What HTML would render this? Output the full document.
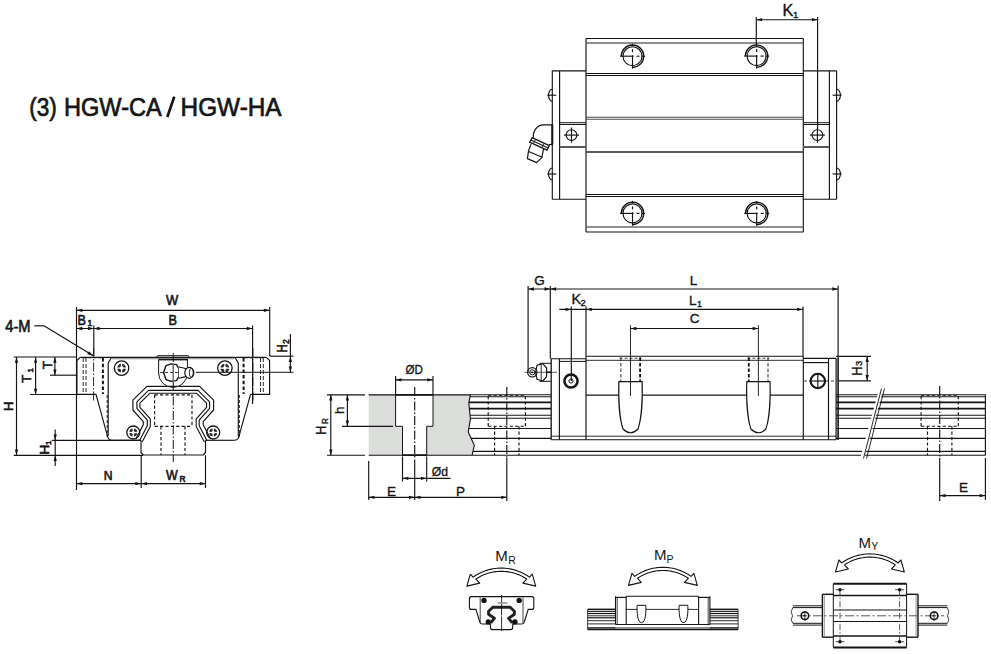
<!DOCTYPE html>
<html><head><meta charset="utf-8"><style>
html,body{margin:0;padding:0;background:#fff;}
svg{display:block;font-family:"Liberation Sans",sans-serif;}
</style></head><body>
<svg width="991" height="654" viewBox="0 0 991 654">
<rect width="991" height="654" fill="#fff"/>
<line x1="167.30" y1="117.00" x2="174.30" y2="96.60" stroke="#151515" stroke-width="2.7"/>
<text x="29.2" y="115.6" font-size="26.4" fill="#151515" stroke="#151515" stroke-width="0.7" textLength="27.6" lengthAdjust="spacingAndGlyphs">(3)</text>
<text x="64.0" y="115.6" font-size="26.4" fill="#151515" stroke="#151515" stroke-width="0.7" textLength="97.8" lengthAdjust="spacingAndGlyphs">HGW-CA</text>
<text x="180.6" y="115.6" font-size="26.4" fill="#151515" stroke="#151515" stroke-width="0.7" textLength="101.0" lengthAdjust="spacingAndGlyphs">HGW-HA</text>
<line x1="586.00" y1="38.50" x2="803.30" y2="38.50" stroke="#141414" stroke-width="1.15"/>
<line x1="586.00" y1="232.00" x2="803.30" y2="232.00" stroke="#141414" stroke-width="1.15"/>
<line x1="586.00" y1="38.50" x2="586.00" y2="232.00" stroke="#141414" stroke-width="1.15"/>
<line x1="803.30" y1="38.50" x2="803.30" y2="232.00" stroke="#141414" stroke-width="1.15"/>
<line x1="586.00" y1="42.90" x2="803.30" y2="42.90" stroke="#6a6a6a" stroke-width="1.5"/>
<line x1="586.00" y1="73.50" x2="803.30" y2="73.50" stroke="#111" stroke-width="1.0"/>
<line x1="586.00" y1="75.50" x2="803.30" y2="75.50" stroke="#111" stroke-width="1.0"/>
<line x1="586.00" y1="117.30" x2="803.30" y2="117.30" stroke="#4a4a4a" stroke-width="1.1"/>
<line x1="586.00" y1="119.30" x2="803.30" y2="119.30" stroke="#4a4a4a" stroke-width="1.1"/>
<line x1="586.00" y1="151.90" x2="803.30" y2="151.90" stroke="#5a5a5a" stroke-width="2.0"/>
<line x1="586.00" y1="194.50" x2="803.30" y2="194.50" stroke="#111" stroke-width="1.0"/>
<line x1="586.00" y1="196.50" x2="803.30" y2="196.50" stroke="#111" stroke-width="1.0"/>
<line x1="586.00" y1="226.90" x2="803.30" y2="226.90" stroke="#6a6a6a" stroke-width="1.5"/>
<line x1="552.30" y1="70.80" x2="552.30" y2="199.20" stroke="#141414" stroke-width="1.15"/>
<line x1="559.60" y1="70.80" x2="559.60" y2="199.20" stroke="#141414" stroke-width="1.15"/>
<line x1="552.30" y1="70.80" x2="586.00" y2="70.80" stroke="#141414" stroke-width="1.15"/>
<line x1="552.30" y1="199.20" x2="586.00" y2="199.20" stroke="#141414" stroke-width="1.15"/>
<line x1="559.60" y1="122.70" x2="586.00" y2="122.70" stroke="#141414" stroke-width="1.0"/>
<line x1="559.60" y1="124.50" x2="586.00" y2="124.50" stroke="#141414" stroke-width="1.0"/>
<line x1="559.60" y1="147.00" x2="586.00" y2="147.00" stroke="#5a5a5a" stroke-width="2.0"/>
<circle cx="571.50" cy="135.10" r="5.40" stroke="#141414" stroke-width="1.15" fill="none"/>
<line x1="564.00" y1="135.10" x2="579.00" y2="135.10" stroke="#141414" stroke-width="1.15"/>
<line x1="571.50" y1="127.50" x2="571.50" y2="142.70" stroke="#141414" stroke-width="1.15"/>
<path d="M552.3,89.2 A3.8,6.0 0 0 0 552.3,101.2" stroke="#141414" stroke-width="1.15" fill="none" />
<line x1="547.30" y1="95.20" x2="556.30" y2="95.20" stroke="#141414" stroke-width="1.15"/>
<path d="M552.3,168.0 A3.8,6.0 0 0 0 552.3,180.0" stroke="#141414" stroke-width="1.15" fill="none" />
<line x1="547.30" y1="174.00" x2="556.30" y2="174.00" stroke="#141414" stroke-width="1.15"/>
<line x1="836.60" y1="70.80" x2="836.60" y2="199.20" stroke="#141414" stroke-width="1.15"/>
<line x1="829.40" y1="70.80" x2="829.40" y2="199.20" stroke="#141414" stroke-width="1.15"/>
<line x1="836.60" y1="70.80" x2="803.30" y2="70.80" stroke="#141414" stroke-width="1.15"/>
<line x1="836.60" y1="199.20" x2="803.30" y2="199.20" stroke="#141414" stroke-width="1.15"/>
<line x1="829.40" y1="122.70" x2="803.30" y2="122.70" stroke="#141414" stroke-width="1.0"/>
<line x1="829.40" y1="124.50" x2="803.30" y2="124.50" stroke="#141414" stroke-width="1.0"/>
<line x1="829.40" y1="147.00" x2="803.30" y2="147.00" stroke="#5a5a5a" stroke-width="2.0"/>
<circle cx="817.40" cy="135.10" r="5.40" stroke="#141414" stroke-width="1.15" fill="none"/>
<line x1="809.90" y1="135.10" x2="824.90" y2="135.10" stroke="#141414" stroke-width="1.15"/>
<line x1="817.40" y1="127.50" x2="817.40" y2="142.70" stroke="#141414" stroke-width="1.15"/>
<path d="M836.6,89.2 A3.8,6.0 0 0 1 836.6,101.2" stroke="#141414" stroke-width="1.15" fill="none" />
<line x1="832.60" y1="95.20" x2="841.60" y2="95.20" stroke="#141414" stroke-width="1.15"/>
<path d="M836.6,168.0 A3.8,6.0 0 0 1 836.6,180.0" stroke="#141414" stroke-width="1.15" fill="none" />
<line x1="832.60" y1="174.00" x2="841.60" y2="174.00" stroke="#141414" stroke-width="1.15"/>
<path d="M621.3,56.2 A11.2,11.2 0 1 1 632.5,67.4" stroke="#141414" stroke-width="1.3" fill="none" />
<circle cx="632.50" cy="56.20" r="9.50" stroke="#141414" stroke-width="1.15" fill="none"/>
<line x1="620.00" y1="56.20" x2="633.50" y2="56.20" stroke="#141414" stroke-width="1.15"/>
<line x1="636.50" y1="56.20" x2="639.50" y2="56.20" stroke="#141414" stroke-width="1.15"/>
<line x1="641.50" y1="56.20" x2="645.00" y2="56.20" stroke="#141414" stroke-width="1.15"/>
<line x1="632.50" y1="43.70" x2="632.50" y2="46.20" stroke="#141414" stroke-width="1.15"/>
<line x1="632.50" y1="49.20" x2="632.50" y2="52.20" stroke="#141414" stroke-width="1.15"/>
<line x1="632.50" y1="55.20" x2="632.50" y2="68.70" stroke="#141414" stroke-width="1.15"/>
<path d="M745.4,56.1 A11.2,11.2 0 1 1 756.6,67.3" stroke="#141414" stroke-width="1.3" fill="none" />
<circle cx="756.60" cy="56.10" r="9.50" stroke="#141414" stroke-width="1.15" fill="none"/>
<line x1="744.10" y1="56.10" x2="757.60" y2="56.10" stroke="#141414" stroke-width="1.15"/>
<line x1="760.60" y1="56.10" x2="763.60" y2="56.10" stroke="#141414" stroke-width="1.15"/>
<line x1="765.60" y1="56.10" x2="769.10" y2="56.10" stroke="#141414" stroke-width="1.15"/>
<line x1="756.60" y1="43.60" x2="756.60" y2="46.10" stroke="#141414" stroke-width="1.15"/>
<line x1="756.60" y1="49.10" x2="756.60" y2="52.10" stroke="#141414" stroke-width="1.15"/>
<line x1="756.60" y1="55.10" x2="756.60" y2="68.60" stroke="#141414" stroke-width="1.15"/>
<path d="M621.3,213.4 A11.2,11.2 0 1 1 632.5,224.6" stroke="#141414" stroke-width="1.3" fill="none" />
<circle cx="632.50" cy="213.40" r="9.50" stroke="#141414" stroke-width="1.15" fill="none"/>
<line x1="620.00" y1="213.40" x2="633.50" y2="213.40" stroke="#141414" stroke-width="1.15"/>
<line x1="636.50" y1="213.40" x2="639.50" y2="213.40" stroke="#141414" stroke-width="1.15"/>
<line x1="641.50" y1="213.40" x2="645.00" y2="213.40" stroke="#141414" stroke-width="1.15"/>
<line x1="632.50" y1="200.90" x2="632.50" y2="203.40" stroke="#141414" stroke-width="1.15"/>
<line x1="632.50" y1="206.40" x2="632.50" y2="209.40" stroke="#141414" stroke-width="1.15"/>
<line x1="632.50" y1="212.40" x2="632.50" y2="225.90" stroke="#141414" stroke-width="1.15"/>
<path d="M745.5,213.4 A11.2,11.2 0 1 1 756.7,224.6" stroke="#141414" stroke-width="1.3" fill="none" />
<circle cx="756.70" cy="213.40" r="9.50" stroke="#141414" stroke-width="1.15" fill="none"/>
<line x1="744.20" y1="213.40" x2="757.70" y2="213.40" stroke="#141414" stroke-width="1.15"/>
<line x1="760.70" y1="213.40" x2="763.70" y2="213.40" stroke="#141414" stroke-width="1.15"/>
<line x1="765.70" y1="213.40" x2="769.20" y2="213.40" stroke="#141414" stroke-width="1.15"/>
<line x1="756.70" y1="200.90" x2="756.70" y2="203.40" stroke="#141414" stroke-width="1.15"/>
<line x1="756.70" y1="206.40" x2="756.70" y2="209.40" stroke="#141414" stroke-width="1.15"/>
<line x1="756.70" y1="212.40" x2="756.70" y2="225.90" stroke="#141414" stroke-width="1.15"/>
<line x1="756.30" y1="17.00" x2="756.30" y2="45.00" stroke="#141414" stroke-width="1.15"/>
<line x1="817.60" y1="17.00" x2="817.60" y2="129.00" stroke="#141414" stroke-width="1.15"/>
<line x1="756.30" y1="19.70" x2="817.60" y2="19.70" stroke="#141414" stroke-width="1.15"/>
<polygon points="756.30,19.70 762.10,18.05 762.10,21.35" fill="#141414"/>
<polygon points="817.60,19.70 811.80,18.05 811.80,21.35" fill="#141414"/>
<text x="782.60" y="15.70" font-size="16.3" text-anchor="start" font-weight="normal" fill="#151515" stroke="#151515" stroke-width="0.35">K</text>
<text x="793.00" y="17.60" font-size="9.5" text-anchor="start" font-weight="normal" fill="#151515" stroke="#151515" stroke-width="0.35">1</text>
<path d="M552.3,124.8 L543.5,124.8 A10,11.5 0 0 0 533.4,137.6" stroke="#141414" stroke-width="1.2" fill="none" />
<path d="M552.3,144.3 L549.0,144.6" stroke="#141414" stroke-width="1.2" fill="none" />
<line x1="552.30" y1="124.50" x2="552.30" y2="144.50" stroke="#141414" stroke-width="2.0"/>
<polygon points="529.60,142.20 532.20,137.60 549.20,145.60 547.00,150.20" stroke="#141414" stroke-width="1.3" fill="none" stroke-linejoin="round" />
<line x1="530.90" y1="139.90" x2="548.10" y2="147.90" stroke="#141414" stroke-width="1.1"/>
<line x1="535.20" y1="139.90" x2="533.60" y2="143.30" stroke="#141414" stroke-width="0.9"/>
<line x1="543.60" y1="143.90" x2="542.00" y2="147.40" stroke="#141414" stroke-width="0.9"/>
<polyline points="531.00,144.20 528.60,150.60 527.40,158.60 536.60,162.60 541.80,157.60 543.60,148.90" stroke="#141414" stroke-width="1.2" fill="none" stroke-linejoin="round" />
<line x1="528.60" y1="151.60" x2="542.20" y2="157.20" stroke="#141414" stroke-width="1.1"/>
<line x1="80.50" y1="357.30" x2="266.00" y2="357.30" stroke="#141414" stroke-width="1.2"/>
<line x1="112.00" y1="358.70" x2="234.50" y2="358.70" stroke="#888" stroke-width="1.1"/>
<polyline points="80.50,357.20 76.90,360.50 76.90,394.40 96.00,394.40" stroke="#141414" stroke-width="1.15" fill="none" stroke-linejoin="round" />
<path d="M96.0,394.4 L107.6,436.6 Q108.6,440.2 112,440.2" stroke="#141414" stroke-width="1.15" fill="none" />
<polyline points="111.60,357.20 108.20,363.00 108.20,436.00" stroke="#141414" stroke-width="1.15" fill="none" stroke-linejoin="round" />
<line x1="83.20" y1="358.00" x2="83.20" y2="394.00" stroke="#141414" stroke-width="0.9" stroke-dasharray="4,2"/>
<line x1="86.00" y1="358.00" x2="86.00" y2="394.00" stroke="#141414" stroke-width="0.9" stroke-dasharray="4,2"/>
<line x1="102.90" y1="358.00" x2="102.90" y2="394.00" stroke="#141414" stroke-width="2.0" stroke-dasharray="3.5,2.2"/>
<line x1="107.20" y1="395.00" x2="107.20" y2="437.00" stroke="#141414" stroke-width="1.0" stroke-dasharray="3,2"/>
<line x1="83.50" y1="357.80" x2="103.00" y2="357.80" stroke="#141414" stroke-width="0.9" stroke-dasharray="3,2"/>
<line x1="93.60" y1="348.00" x2="93.60" y2="401.00" stroke="#141414" stroke-width="0.9" stroke-dasharray="9,2,1.5,2"/>
<polyline points="266.00,357.20 269.60,360.50 269.60,394.40 250.50,394.40" stroke="#141414" stroke-width="1.15" fill="none" stroke-linejoin="round" />
<path d="M250.5,394.4 L238.9,436.6 Q237.9,440.2 234.5,440.2" stroke="#141414" stroke-width="1.15" fill="none" />
<polyline points="234.90,357.20 238.30,363.00 238.30,436.00" stroke="#141414" stroke-width="1.15" fill="none" stroke-linejoin="round" />
<line x1="263.30" y1="358.00" x2="263.30" y2="394.00" stroke="#141414" stroke-width="0.9" stroke-dasharray="4,2"/>
<line x1="260.50" y1="358.00" x2="260.50" y2="394.00" stroke="#141414" stroke-width="0.9" stroke-dasharray="4,2"/>
<line x1="243.60" y1="358.00" x2="243.60" y2="394.00" stroke="#141414" stroke-width="2.0" stroke-dasharray="3.5,2.2"/>
<line x1="239.30" y1="395.00" x2="239.30" y2="437.00" stroke="#141414" stroke-width="1.0" stroke-dasharray="3,2"/>
<line x1="263.00" y1="357.80" x2="243.50" y2="357.80" stroke="#141414" stroke-width="0.9" stroke-dasharray="3,2"/>
<line x1="252.90" y1="348.00" x2="252.90" y2="401.00" stroke="#141414" stroke-width="0.9" stroke-dasharray="9,2,1.5,2"/>
<line x1="112.00" y1="440.30" x2="141.00" y2="440.30" stroke="#141414" stroke-width="1.15"/>
<line x1="205.50" y1="440.30" x2="234.50" y2="440.30" stroke="#141414" stroke-width="1.15"/>
<line x1="13.70" y1="455.30" x2="143.00" y2="455.30" stroke="#141414" stroke-width="1.15"/>
<polyline points="141.00,440.30 141.00,452.50 143.30,455.00 203.20,455.00 205.50,452.50 205.50,440.30" stroke="#141414" stroke-width="1.15" fill="none" stroke-linejoin="round" />
<polyline points="135.90,438.80 143.30,424.70 143.30,421.60 132.90,410.00 132.90,400.20 146.90,386.30 199.60,386.30 213.60,400.20 213.60,410.00 203.20,421.60 203.20,424.70 210.60,438.80" stroke="#141414" stroke-width="1.15" fill="none" stroke-linejoin="round" />
<polyline points="139.44,440.66 147.30,425.69 147.30,420.07 136.90,408.47 136.90,401.87 148.55,390.30 197.95,390.30 209.60,401.87 209.60,408.47 199.20,420.07 199.20,425.69 207.06,440.66" stroke="#141414" stroke-width="1.15" fill="none" stroke-linejoin="round" />
<polyline points="142.10,442.05 150.30,426.43 150.30,418.92 139.90,407.32 139.90,403.11 149.78,393.30 196.72,393.30 206.60,403.11 206.60,407.32 196.20,418.92 196.20,426.43 204.40,442.05" stroke="#141414" stroke-width="1.1" fill="none" stroke-linejoin="round" />
<circle cx="121.60" cy="368.10" r="7.20" stroke="#141414" stroke-width="1.3" fill="none"/>
<circle cx="121.60" cy="368.10" r="4.46" stroke="#141414" stroke-width="0" fill="#2a2a2a"/>
<line x1="115.84" y1="368.10" x2="127.36" y2="368.10" stroke="white" stroke-width="1.3"/>
<line x1="121.60" y1="362.34" x2="121.60" y2="373.86" stroke="white" stroke-width="1.3"/>
<circle cx="121.60" cy="368.10" r="1.80" stroke="#141414" stroke-width="0" fill="white"/>
<circle cx="224.90" cy="368.10" r="7.20" stroke="#141414" stroke-width="1.3" fill="none"/>
<circle cx="224.90" cy="368.10" r="4.46" stroke="#141414" stroke-width="0" fill="#2a2a2a"/>
<line x1="219.14" y1="368.10" x2="230.66" y2="368.10" stroke="white" stroke-width="1.3"/>
<line x1="224.90" y1="362.34" x2="224.90" y2="373.86" stroke="white" stroke-width="1.3"/>
<circle cx="224.90" cy="368.10" r="1.80" stroke="#141414" stroke-width="0" fill="white"/>
<circle cx="133.30" cy="432.50" r="6.50" stroke="#141414" stroke-width="1.3" fill="none"/>
<circle cx="133.30" cy="432.50" r="4.03" stroke="#141414" stroke-width="0" fill="#2a2a2a"/>
<line x1="128.10" y1="432.50" x2="138.50" y2="432.50" stroke="white" stroke-width="1.3"/>
<line x1="133.30" y1="427.30" x2="133.30" y2="437.70" stroke="white" stroke-width="1.3"/>
<circle cx="133.30" cy="432.50" r="1.62" stroke="#141414" stroke-width="0" fill="white"/>
<circle cx="213.20" cy="432.50" r="6.50" stroke="#141414" stroke-width="1.3" fill="none"/>
<circle cx="213.20" cy="432.50" r="4.03" stroke="#141414" stroke-width="0" fill="#2a2a2a"/>
<line x1="208.00" y1="432.50" x2="218.40" y2="432.50" stroke="white" stroke-width="1.3"/>
<line x1="213.20" y1="427.30" x2="213.20" y2="437.70" stroke="white" stroke-width="1.3"/>
<circle cx="213.20" cy="432.50" r="1.62" stroke="#141414" stroke-width="0" fill="white"/>
<line x1="154.60" y1="394.80" x2="154.60" y2="426.30" stroke="#141414" stroke-width="1.15" stroke-dasharray="3.2,2.2"/>
<line x1="192.00" y1="394.80" x2="192.00" y2="426.30" stroke="#141414" stroke-width="1.15" stroke-dasharray="3.2,2.2"/>
<line x1="154.60" y1="394.80" x2="192.00" y2="394.80" stroke="#141414" stroke-width="1.15" stroke-dasharray="3.2,2.2"/>
<line x1="154.60" y1="426.30" x2="192.00" y2="426.30" stroke="#141414" stroke-width="1.15" stroke-dasharray="3.2,2.2"/>
<line x1="161.00" y1="426.30" x2="161.00" y2="455.00" stroke="#141414" stroke-width="1.15" stroke-dasharray="3.2,2.2"/>
<line x1="185.00" y1="426.30" x2="185.00" y2="455.00" stroke="#141414" stroke-width="1.15" stroke-dasharray="3.2,2.2"/>
<line x1="173.25" y1="353.00" x2="173.25" y2="462.00" stroke="#141414" stroke-width="1.0" stroke-dasharray="9,2,1.5,2"/>
<path d="M156,358 L157.5,355.7 L188.5,355.7 L190,358" stroke="#141414" stroke-width="1.0" fill="none" />
<line x1="158.50" y1="359.60" x2="188.00" y2="359.60" stroke="#141414" stroke-width="1.6"/>
<path d="M158.6,359.6 L158.6,373 A14.4,14.4 0 0 0 187.4,373 L187.4,359.6" stroke="#141414" stroke-width="1.0" fill="none" />
<polygon points="163.60,372.60 166.00,365.60 171.00,363.90 176.50,364.60 178.80,368.50 178.80,376.70 176.50,380.60 171.00,381.30 166.00,379.60" stroke="#141414" stroke-width="1.4" fill="white" stroke-linejoin="round" />
<line x1="173.20" y1="364.50" x2="173.20" y2="381.00" stroke="#777" stroke-width="1.6"/>
<path d="M178.8,367.0 L182.5,367.8 L186,368.6 L186,376.6 L182.5,377.4 L178.8,378.2" stroke="#141414" stroke-width="1.1" fill="white" />
<ellipse cx="189.3" cy="372.8" rx="4.5" ry="5.5" stroke="#141414" stroke-width="1.2" fill="white"/>
<ellipse cx="191.3" cy="372.8" rx="2.0" ry="4.5" stroke="#141414" stroke-width="0.9" fill="none"/>
<line x1="160.00" y1="372.50" x2="179.00" y2="372.50" stroke="#141414" stroke-width="0.8" stroke-dasharray="3,2"/>
<line x1="196.00" y1="372.30" x2="293.50" y2="372.30" stroke="#141414" stroke-width="1.0"/>
<line x1="76.50" y1="307.00" x2="76.50" y2="490.00" stroke="#141414" stroke-width="1.15"/>
<line x1="269.70" y1="307.00" x2="269.70" y2="356.00" stroke="#141414" stroke-width="1.15"/>
<line x1="76.50" y1="310.30" x2="269.70" y2="310.30" stroke="#141414" stroke-width="1.15"/>
<polygon points="76.50,310.30 82.30,308.65 82.30,311.95" fill="#141414"/>
<polygon points="269.70,310.30 263.90,308.65 263.90,311.95" fill="#141414"/>
<line x1="93.80" y1="325.50" x2="93.80" y2="356.00" stroke="#141414" stroke-width="1.15"/>
<line x1="252.60" y1="325.50" x2="252.60" y2="404.00" stroke="#141414" stroke-width="1.15"/>
<line x1="76.50" y1="328.50" x2="252.60" y2="328.50" stroke="#141414" stroke-width="1.15"/>
<polygon points="76.50,328.50 82.30,326.85 82.30,330.15" fill="#141414"/>
<polygon points="93.80,328.50 88.00,326.85 88.00,330.15" fill="#141414"/>
<polygon points="93.80,328.50 99.60,326.85 99.60,330.15" fill="#141414"/>
<polygon points="252.60,328.50 246.80,326.85 246.80,330.15" fill="#141414"/>
<line x1="13.80" y1="357.00" x2="76.50" y2="357.00" stroke="#141414" stroke-width="1.15"/>
<line x1="16.50" y1="357.00" x2="16.50" y2="455.20" stroke="#141414" stroke-width="1.15"/>
<polygon points="16.50,357.00 14.85,362.80 18.15,362.80" fill="#141414"/>
<polygon points="16.50,455.20 14.85,449.40 18.15,449.40" fill="#141414"/>
<line x1="30.00" y1="394.50" x2="76.90" y2="394.50" stroke="#141414" stroke-width="1.15"/>
<line x1="35.60" y1="357.00" x2="35.60" y2="394.50" stroke="#141414" stroke-width="1.15"/>
<polygon points="35.60,357.00 33.95,362.80 37.25,362.80" fill="#141414"/>
<polygon points="35.60,394.50 33.95,388.70 37.25,388.70" fill="#141414"/>
<line x1="50.00" y1="375.20" x2="76.90" y2="375.20" stroke="#141414" stroke-width="1.15"/>
<line x1="54.90" y1="357.00" x2="54.90" y2="375.20" stroke="#141414" stroke-width="1.15"/>
<polygon points="54.90,357.00 53.25,362.80 56.55,362.80" fill="#141414"/>
<polygon points="54.90,375.20 53.25,369.40 56.55,369.40" fill="#141414"/>
<line x1="52.00" y1="440.30" x2="141.00" y2="440.30" stroke="#141414" stroke-width="1.15"/>
<line x1="55.20" y1="429.50" x2="55.20" y2="466.00" stroke="#141414" stroke-width="1.15"/>
<polygon points="55.20,440.30 53.55,434.50 56.85,434.50" fill="#141414"/>
<polygon points="55.20,455.20 53.55,461.00 56.85,461.00" fill="#141414"/>
<line x1="141.20" y1="455.20" x2="141.20" y2="488.00" stroke="#141414" stroke-width="1.15"/>
<line x1="205.50" y1="455.20" x2="205.50" y2="488.00" stroke="#141414" stroke-width="1.15"/>
<line x1="76.50" y1="483.60" x2="205.50" y2="483.60" stroke="#141414" stroke-width="1.15"/>
<polygon points="76.50,483.60 82.30,481.95 82.30,485.25" fill="#141414"/>
<polygon points="141.20,483.60 135.40,481.95 135.40,485.25" fill="#141414"/>
<polygon points="141.20,483.60 147.00,481.95 147.00,485.25" fill="#141414"/>
<polygon points="205.50,483.60 199.70,481.95 199.70,485.25" fill="#141414"/>
<line x1="269.70" y1="356.20" x2="293.50" y2="356.20" stroke="#141414" stroke-width="1.15"/>
<line x1="290.40" y1="334.00" x2="290.40" y2="372.30" stroke="#141414" stroke-width="1.15"/>
<polygon points="290.40,356.20 288.75,362.00 292.05,362.00" fill="#141414"/>
<polygon points="290.40,372.30 288.75,366.50 292.05,366.50" fill="#141414"/>
<line x1="34.30" y1="325.80" x2="44.00" y2="325.80" stroke="#141414" stroke-width="1.15"/>
<line x1="44.00" y1="325.80" x2="93.30" y2="355.80" stroke="#141414" stroke-width="1.15"/>
<polygon points="93.30,355.80 87.29,354.13 89.06,351.23" fill="#141414"/>
<text x="0.00" y="0.00" font-size="13.8" text-anchor="middle" font-weight="normal" fill="#151515" transform="translate(172.20,304.70) scale(0.94,1)" stroke="#151515" stroke-width="0.6">W</text>
<text x="0.00" y="0.00" font-size="13.8" text-anchor="middle" font-weight="normal" fill="#151515" transform="translate(172.70,325.00) scale(0.92,1)" stroke="#151515" stroke-width="0.6">B</text>
<text x="0.00" y="0.00" font-size="13.8" text-anchor="start" font-weight="normal" fill="#151515" transform="translate(77.60,324.80) scale(0.92,1)" stroke="#151515" stroke-width="0.6">B</text>
<text x="87.60" y="326.30" font-size="8.5" text-anchor="start" font-weight="normal" fill="#151515" stroke="#151515" stroke-width="0.6">1</text>
<text x="0.00" y="0.00" font-size="15.8" text-anchor="start" font-weight="normal" fill="#151515" transform="translate(5.30,331.70) scale(0.93,1)" stroke="#151515" stroke-width="0.6">4-M</text>
<text x="0.00" y="0.00" font-size="13.5" text-anchor="middle" font-weight="normal" fill="#151515" transform="translate(108.20,479.70) scale(0.9,1)" stroke="#151515" stroke-width="0.6">N</text>
<text x="0.00" y="0.00" font-size="13.8" text-anchor="start" font-weight="normal" fill="#151515" transform="translate(166.00,479.70) scale(0.9,1)" stroke="#151515" stroke-width="0.6">W</text>
<text x="0.00" y="0.00" font-size="8.8" text-anchor="start" font-weight="normal" fill="#151515" transform="translate(179.50,482.00) scale(0.95,1)" stroke="#151515" stroke-width="0.6">R</text>
<text x="0.00" y="0.00" font-size="13" text-anchor="middle" font-weight="normal" fill="#151515" transform="translate(12.90,406.40) rotate(-90)" stroke="#151515" stroke-width="0.6">H</text>
<text x="0.00" y="0.00" font-size="13.5" text-anchor="start" font-weight="normal" fill="#151515" transform="translate(30.50,383.00) rotate(-90)" stroke="#151515" stroke-width="0.6">T</text>
<text x="0.00" y="0.00" font-size="8" text-anchor="start" font-weight="normal" fill="#151515" transform="translate(33.00,372.50) rotate(-90)" stroke="#151515" stroke-width="0.6">1</text>
<text x="0.00" y="0.00" font-size="13.5" text-anchor="middle" font-weight="normal" fill="#151515" transform="translate(51.60,365.00) rotate(-90)" stroke="#151515" stroke-width="0.6">T</text>
<text x="0.00" y="0.00" font-size="13.5" text-anchor="start" font-weight="normal" fill="#151515" transform="translate(48.70,454.60) rotate(-90)" stroke="#151515" stroke-width="0.6">H</text>
<text x="0.00" y="0.00" font-size="8" text-anchor="start" font-weight="normal" fill="#151515" transform="translate(50.60,445.00) rotate(-90)" stroke="#151515" stroke-width="0.6">1</text>
<text x="0.00" y="0.00" font-size="15.5" text-anchor="start" font-weight="normal" fill="#151515" transform="translate(287.10,352.50) rotate(-90) scale(0.74,1)" stroke="#151515" stroke-width="0.6">H</text>
<text x="0.00" y="0.00" font-size="9.5" text-anchor="start" font-weight="normal" fill="#151515" transform="translate(289.20,344.00) rotate(-90) scale(0.9,1)" stroke="#151515" stroke-width="0.6">2</text>
<path d="M368.7,394.8 L470.4,394.6 L468.8,402.9 L470.4,418.9 L468.2,432.1 L474.3,445.3 L472.1,455.2 L368.7,455.2 Z" stroke="none" stroke-width="0" fill="#dbdddb" />
<polyline points="470.40,394.60 468.80,402.90 470.40,418.90 468.20,432.10 474.30,445.30 472.10,455.20" stroke="#141414" stroke-width="1.1" fill="none" stroke-linejoin="round" />
<path d="M395.6,394.8 L433.0,394.8 L433.0,426.3 L426.7,426.3 L426.7,455.2 L402.5,455.2 L402.5,426.3 L395.6,426.3 Z" stroke="#141414" stroke-width="1.0" fill="white" />
<line x1="368.70" y1="394.80" x2="470.40" y2="394.80" stroke="#141414" stroke-width="1.2"/>
<line x1="395.60" y1="394.80" x2="433.00" y2="394.80" stroke="#141414" stroke-width="1.6"/>
<line x1="402.50" y1="455.20" x2="426.70" y2="455.20" stroke="#141414" stroke-width="1.6"/>
<line x1="327.00" y1="394.80" x2="365.00" y2="394.80" stroke="#141414" stroke-width="1.15"/>
<line x1="327.00" y1="455.20" x2="365.00" y2="455.20" stroke="#141414" stroke-width="1.15"/>
<line x1="330.80" y1="394.80" x2="330.80" y2="455.20" stroke="#141414" stroke-width="1.15"/>
<polygon points="330.80,394.80 329.15,400.60 332.45,400.60" fill="#141414"/>
<polygon points="330.80,455.20 329.15,449.40 332.45,449.40" fill="#141414"/>
<line x1="342.00" y1="426.30" x2="393.00" y2="426.30" stroke="#141414" stroke-width="1.15"/>
<line x1="347.40" y1="394.80" x2="347.40" y2="426.30" stroke="#141414" stroke-width="1.15"/>
<polygon points="347.40,394.80 345.75,400.60 349.05,400.60" fill="#141414"/>
<polygon points="347.40,426.30 345.75,420.50 349.05,420.50" fill="#141414"/>
<line x1="395.60" y1="376.00" x2="395.60" y2="394.80" stroke="#141414" stroke-width="1.15"/>
<line x1="433.00" y1="376.00" x2="433.00" y2="394.80" stroke="#141414" stroke-width="1.15"/>
<line x1="395.60" y1="379.80" x2="433.00" y2="379.80" stroke="#141414" stroke-width="1.15"/>
<polygon points="395.60,379.80 401.40,378.15 401.40,381.45" fill="#141414"/>
<polygon points="433.00,379.80 427.20,378.15 427.20,381.45" fill="#141414"/>
<text x="0.00" y="0.00" font-size="13.5" text-anchor="middle" font-weight="normal" fill="#151515" transform="translate(414.30,374.30) scale(0.86,1)" stroke="#151515" stroke-width="0.35">ØD</text>
<line x1="402.50" y1="456.50" x2="402.50" y2="481.50" stroke="#141414" stroke-width="1.15"/>
<line x1="426.70" y1="456.50" x2="426.70" y2="481.50" stroke="#141414" stroke-width="1.15"/>
<line x1="402.50" y1="478.30" x2="450.60" y2="478.30" stroke="#141414" stroke-width="1.15"/>
<polygon points="402.50,478.30 408.30,476.65 408.30,479.95" fill="#141414"/>
<polygon points="426.70,478.30 420.90,476.65 420.90,479.95" fill="#141414"/>
<text x="0.00" y="0.00" font-size="13.5" text-anchor="start" font-weight="normal" fill="#151515" transform="translate(431.70,476.20) scale(0.9,1)" stroke="#151515" stroke-width="0.35">Ød</text>
<line x1="414.70" y1="387.00" x2="414.70" y2="460.00" stroke="#141414" stroke-width="1.15" stroke-dasharray="9,2,1.5,2"/>
<line x1="414.70" y1="460.00" x2="414.70" y2="500.00" stroke="#141414" stroke-width="1.15"/>
<line x1="368.70" y1="461.00" x2="368.70" y2="500.00" stroke="#141414" stroke-width="1.15"/>
<line x1="368.70" y1="497.30" x2="507.00" y2="497.30" stroke="#141414" stroke-width="1.15"/>
<polygon points="368.70,497.30 374.50,495.65 374.50,498.95" fill="#141414"/>
<polygon points="414.70,497.30 408.90,495.65 408.90,498.95" fill="#141414"/>
<polygon points="414.70,497.30 420.50,495.65 420.50,498.95" fill="#141414"/>
<polygon points="507.00,497.30 501.20,495.65 501.20,498.95" fill="#141414"/>
<text x="391.40" y="495.50" font-size="13.5" text-anchor="middle" font-weight="normal" fill="#151515" stroke="#151515" stroke-width="0.35">E</text>
<text x="460.50" y="495.50" font-size="13.5" text-anchor="middle" font-weight="normal" fill="#151515" stroke="#151515" stroke-width="0.35">P</text>
<line x1="470.38" y1="394.70" x2="551.00" y2="394.70" stroke="#141414" stroke-width="1.15"/>
<line x1="836.10" y1="394.70" x2="985.40" y2="394.70" stroke="#141414" stroke-width="1.15"/>
<line x1="470.00" y1="396.70" x2="551.00" y2="396.70" stroke="#141414" stroke-width="1.15"/>
<line x1="836.10" y1="396.70" x2="985.40" y2="396.70" stroke="#141414" stroke-width="1.15"/>
<line x1="468.90" y1="402.40" x2="551.00" y2="402.40" stroke="#141414" stroke-width="1.8"/>
<line x1="836.10" y1="402.40" x2="985.40" y2="402.40" stroke="#141414" stroke-width="1.8"/>
<line x1="469.37" y1="408.60" x2="551.00" y2="408.60" stroke="#141414" stroke-width="1.8"/>
<line x1="836.10" y1="408.60" x2="985.40" y2="408.60" stroke="#141414" stroke-width="1.8"/>
<line x1="470.03" y1="415.20" x2="551.00" y2="415.20" stroke="#141414" stroke-width="1.1"/>
<line x1="836.10" y1="415.20" x2="985.40" y2="415.20" stroke="#141414" stroke-width="1.1"/>
<line x1="470.33" y1="418.20" x2="551.00" y2="418.20" stroke="#141414" stroke-width="1.1"/>
<line x1="836.10" y1="418.20" x2="985.40" y2="418.20" stroke="#141414" stroke-width="1.1"/>
<line x1="468.80" y1="428.50" x2="551.00" y2="428.50" stroke="#141414" stroke-width="1.15"/>
<line x1="836.10" y1="428.50" x2="985.40" y2="428.50" stroke="#141414" stroke-width="1.15"/>
<line x1="471.11" y1="438.40" x2="551.00" y2="438.40" stroke="#141414" stroke-width="1.15"/>
<line x1="836.10" y1="438.40" x2="985.40" y2="438.40" stroke="#141414" stroke-width="1.15"/>
<line x1="472.94" y1="451.40" x2="985.40" y2="451.40" stroke="#141414" stroke-width="1.15"/>
<line x1="368.70" y1="455.20" x2="985.40" y2="455.20" stroke="#141414" stroke-width="1.1"/>
<line x1="985.40" y1="394.70" x2="985.40" y2="455.20" stroke="#141414" stroke-width="1.15"/>
<path d="M882.0,386 L861.5,461" stroke="white" stroke-width="4" fill="none" />
<path d="M881.5,388.5 L863.5,458.5" stroke="#141414" stroke-width="0.9" fill="none" />
<path d="M884.5,388.5 L866.5,458.5" stroke="#141414" stroke-width="0.9" fill="none" />
<line x1="488.20" y1="396.00" x2="488.20" y2="426.20" stroke="#141414" stroke-width="1.15" stroke-dasharray="3.2,2.2"/>
<line x1="525.40" y1="396.00" x2="525.40" y2="426.20" stroke="#141414" stroke-width="1.15" stroke-dasharray="3.2,2.2"/>
<line x1="488.20" y1="426.20" x2="525.40" y2="426.20" stroke="#141414" stroke-width="1.15" stroke-dasharray="3.2,2.2"/>
<line x1="488.20" y1="395.50" x2="525.40" y2="395.50" stroke="#141414" stroke-width="0.8" stroke-dasharray="3.2,2.2"/>
<line x1="494.60" y1="426.20" x2="494.60" y2="455.00" stroke="#141414" stroke-width="1.15" stroke-dasharray="3.2,2.2"/>
<line x1="519.00" y1="426.20" x2="519.00" y2="455.00" stroke="#141414" stroke-width="1.15" stroke-dasharray="3.2,2.2"/>
<line x1="921.10" y1="396.00" x2="921.10" y2="426.20" stroke="#141414" stroke-width="1.15" stroke-dasharray="3.2,2.2"/>
<line x1="958.30" y1="396.00" x2="958.30" y2="426.20" stroke="#141414" stroke-width="1.15" stroke-dasharray="3.2,2.2"/>
<line x1="921.10" y1="426.20" x2="958.30" y2="426.20" stroke="#141414" stroke-width="1.15" stroke-dasharray="3.2,2.2"/>
<line x1="921.10" y1="395.50" x2="958.30" y2="395.50" stroke="#141414" stroke-width="0.8" stroke-dasharray="3.2,2.2"/>
<line x1="927.50" y1="426.20" x2="927.50" y2="455.00" stroke="#141414" stroke-width="1.15" stroke-dasharray="3.2,2.2"/>
<line x1="951.90" y1="426.20" x2="951.90" y2="455.00" stroke="#141414" stroke-width="1.15" stroke-dasharray="3.2,2.2"/>
<line x1="506.80" y1="387.00" x2="506.80" y2="458.00" stroke="#141414" stroke-width="1.15" stroke-dasharray="9,2,1.5,2"/>
<line x1="506.80" y1="458.00" x2="506.80" y2="501.00" stroke="#141414" stroke-width="1.15"/>
<line x1="939.70" y1="386.00" x2="939.70" y2="458.00" stroke="#141414" stroke-width="1.15" stroke-dasharray="9,2,1.5,2"/>
<line x1="939.70" y1="458.00" x2="939.70" y2="501.00" stroke="#141414" stroke-width="1.15"/>
<line x1="985.40" y1="458.00" x2="985.40" y2="500.00" stroke="#141414" stroke-width="1.15"/>
<line x1="939.70" y1="495.60" x2="985.40" y2="495.60" stroke="#141414" stroke-width="1.15"/>
<polygon points="939.70,495.60 945.50,493.95 945.50,497.25" fill="#141414"/>
<polygon points="985.40,495.60 979.60,493.95 979.60,497.25" fill="#141414"/>
<text x="963.60" y="492.20" font-size="13.5" text-anchor="middle" font-weight="normal" fill="#151515" stroke="#151515" stroke-width="0.35">E</text>
<path d="M551.2,358.7 L586,358.7" stroke="#141414" stroke-width="1.15" fill="none" />
<line x1="559.40" y1="361.40" x2="586.00" y2="361.40" stroke="#141414" stroke-width="1.0"/>
<line x1="551.20" y1="358.70" x2="551.20" y2="439.80" stroke="#141414" stroke-width="1.3"/>
<line x1="559.40" y1="358.70" x2="559.40" y2="439.80" stroke="#141414" stroke-width="1.15"/>
<line x1="551.20" y1="439.80" x2="836.10" y2="439.80" stroke="#141414" stroke-width="1.1"/>
<line x1="551.20" y1="436.20" x2="836.10" y2="436.20" stroke="#141414" stroke-width="0.9"/>
<line x1="586.00" y1="356.20" x2="803.30" y2="356.20" stroke="#141414" stroke-width="1.1"/>
<line x1="586.00" y1="360.30" x2="803.30" y2="360.30" stroke="#141414" stroke-width="0.9"/>
<line x1="586.00" y1="356.20" x2="586.00" y2="439.80" stroke="#141414" stroke-width="1.15"/>
<line x1="803.30" y1="356.20" x2="803.30" y2="439.80" stroke="#141414" stroke-width="1.15"/>
<line x1="586.00" y1="395.10" x2="803.30" y2="395.10" stroke="#141414" stroke-width="1.15"/>
<line x1="803.30" y1="358.30" x2="836.10" y2="358.30" stroke="#141414" stroke-width="1.15"/>
<line x1="803.30" y1="362.60" x2="828.50" y2="362.60" stroke="#141414" stroke-width="1.15"/>
<line x1="828.50" y1="358.30" x2="828.50" y2="439.80" stroke="#141414" stroke-width="1.15"/>
<line x1="836.10" y1="358.30" x2="836.10" y2="439.80" stroke="#141414" stroke-width="1.2"/>
<line x1="838.10" y1="358.30" x2="838.10" y2="439.80" stroke="#141414" stroke-width="1.0"/>
<circle cx="571.00" cy="381.00" r="6.60" stroke="#141414" stroke-width="2.5" fill="none"/>
<circle cx="571.00" cy="381.00" r="2.10" stroke="#141414" stroke-width="1.0" fill="none"/>
<circle cx="817.80" cy="381.00" r="7.20" stroke="#141414" stroke-width="2.1" fill="none"/>
<line x1="810.00" y1="381.00" x2="826.00" y2="381.00" stroke="#141414" stroke-width="1.15"/>
<line x1="817.80" y1="373.00" x2="817.80" y2="389.00" stroke="#141414" stroke-width="1.15"/>
<line x1="804.00" y1="381.00" x2="810.00" y2="381.00" stroke="#141414" stroke-width="0.8" stroke-dasharray="3,2"/>
<line x1="826.00" y1="381.00" x2="836.00" y2="381.00" stroke="#141414" stroke-width="0.8" stroke-dasharray="3,2"/>
<path d="M618.9,381.6 L642.1,381.6 C642.7,398 641.5,419 638.0,429 Q630.5,436.5 623.0,429 C619.5,419 618.3,398 618.9,381.6 Z" stroke="#141414" stroke-width="1.15" fill="white" />
<line x1="620.90" y1="357.50" x2="620.90" y2="381.00" stroke="#141414" stroke-width="0.9" stroke-dasharray="3.5,2"/>
<line x1="640.10" y1="357.50" x2="640.10" y2="381.00" stroke="#141414" stroke-width="1.8" stroke-dasharray="3.5,2"/>
<line x1="619.50" y1="358.20" x2="641.50" y2="358.20" stroke="#141414" stroke-width="0.8" stroke-dasharray="3,2"/>
<line x1="630.50" y1="325.20" x2="630.50" y2="396.00" stroke="#141414" stroke-width="0.9"/>
<path d="M746.8,381.6 L770.0,381.6 C770.6,398 769.4,419 765.9,429 Q758.4,436.5 750.9,429 C747.4,419 746.1999999999999,398 746.8,381.6 Z" stroke="#141414" stroke-width="1.15" fill="white" />
<line x1="768.00" y1="357.50" x2="768.00" y2="381.00" stroke="#141414" stroke-width="0.9" stroke-dasharray="3.5,2"/>
<line x1="748.80" y1="357.50" x2="748.80" y2="381.00" stroke="#141414" stroke-width="1.8" stroke-dasharray="3.5,2"/>
<line x1="747.40" y1="358.20" x2="769.40" y2="358.20" stroke="#141414" stroke-width="0.8" stroke-dasharray="3,2"/>
<line x1="758.40" y1="325.20" x2="758.40" y2="396.00" stroke="#141414" stroke-width="0.9"/>
<line x1="528.10" y1="286.00" x2="528.10" y2="371.50" stroke="#141414" stroke-width="1.15"/>
<line x1="550.30" y1="286.00" x2="550.30" y2="358.70" stroke="#141414" stroke-width="1.15"/>
<circle cx="532.30" cy="372.30" r="4.70" stroke="#141414" stroke-width="1.2" fill="none"/>
<circle cx="532.30" cy="372.30" r="2.60" stroke="#141414" stroke-width="1.0" fill="none"/>
<circle cx="532.30" cy="372.30" r="0.90" stroke="#141414" stroke-width="0" fill="#141414"/>
<polygon points="537.00,365.30 542.80,363.60 546.60,368.00 546.60,376.60 542.80,381.00 537.00,379.30 535.60,372.30" stroke="#141414" stroke-width="1.15" fill="none" stroke-linejoin="round" />
<line x1="541.20" y1="364.40" x2="541.20" y2="380.20" stroke="#141414" stroke-width="0.9"/>
<line x1="539.50" y1="363.30" x2="551.20" y2="363.30" stroke="#141414" stroke-width="1.0"/>
<line x1="539.50" y1="381.30" x2="551.20" y2="381.30" stroke="#141414" stroke-width="1.0"/>
<line x1="546.60" y1="372.30" x2="551.20" y2="372.30" stroke="#141414" stroke-width="1.6"/>
<line x1="524.50" y1="372.30" x2="557.00" y2="372.30" stroke="#141414" stroke-width="0.7"/>
<line x1="528.10" y1="289.00" x2="838.10" y2="289.00" stroke="#141414" stroke-width="1.15"/>
<polygon points="528.10,289.00 533.90,287.35 533.90,290.65" fill="#141414"/>
<polygon points="550.30,289.00 544.50,287.35 544.50,290.65" fill="#141414"/>
<polygon points="550.30,289.00 556.10,287.35 556.10,290.65" fill="#141414"/>
<polygon points="838.10,289.00 832.30,287.35 832.30,290.65" fill="#141414"/>
<line x1="838.10" y1="285.50" x2="838.10" y2="440.00" stroke="#141414" stroke-width="1.15"/>
<text x="539.60" y="284.50" font-size="13.5" text-anchor="middle" font-weight="normal" fill="#151515" stroke="#151515" stroke-width="0.35">G</text>
<text x="693.40" y="284.80" font-size="13.5" text-anchor="middle" font-weight="normal" fill="#151515" stroke="#151515" stroke-width="0.35">L</text>
<line x1="559.30" y1="309.40" x2="803.00" y2="309.40" stroke="#141414" stroke-width="1.15"/>
<polygon points="571.30,309.40 565.50,307.75 565.50,311.05" fill="#141414"/>
<polygon points="586.00,309.40 591.80,307.75 591.80,311.05" fill="#141414"/>
<polygon points="803.00,309.40 797.20,307.75 797.20,311.05" fill="#141414"/>
<line x1="571.30" y1="306.50" x2="571.30" y2="381.00" stroke="#141414" stroke-width="1.15"/>
<line x1="586.00" y1="306.50" x2="586.00" y2="356.20" stroke="#141414" stroke-width="1.15"/>
<line x1="803.00" y1="306.50" x2="803.00" y2="356.20" stroke="#141414" stroke-width="1.15"/>
<text x="571.50" y="303.50" font-size="14.5" text-anchor="start" font-weight="normal" fill="#151515" stroke="#151515" stroke-width="0.35">K</text>
<text x="580.40" y="305.60" font-size="9.5" text-anchor="start" font-weight="normal" fill="#151515" stroke="#151515" stroke-width="0.35">2</text>
<text x="689.00" y="305.20" font-size="13.5" text-anchor="start" font-weight="normal" fill="#151515" stroke="#151515" stroke-width="0.35">L</text>
<text x="697.00" y="307.20" font-size="9" text-anchor="start" font-weight="normal" fill="#151515" stroke="#151515" stroke-width="0.35">1</text>
<line x1="630.50" y1="328.50" x2="758.40" y2="328.50" stroke="#141414" stroke-width="1.15"/>
<polygon points="630.50,328.50 636.30,326.85 636.30,330.15" fill="#141414"/>
<polygon points="758.40,328.50 752.60,326.85 752.60,330.15" fill="#141414"/>
<text x="694.70" y="323.00" font-size="13.5" text-anchor="middle" font-weight="normal" fill="#151515" stroke="#151515" stroke-width="0.35">C</text>
<line x1="836.10" y1="356.30" x2="871.00" y2="356.30" stroke="#141414" stroke-width="1.15"/>
<line x1="838.00" y1="380.80" x2="871.00" y2="380.80" stroke="#141414" stroke-width="1.15"/>
<line x1="867.20" y1="356.30" x2="867.20" y2="380.80" stroke="#141414" stroke-width="1.15"/>
<polygon points="867.20,356.30 865.55,362.10 868.85,362.10" fill="#141414"/>
<polygon points="867.20,380.80 865.55,375.00 868.85,375.00" fill="#141414"/>
<text x="0.00" y="0.00" font-size="15.5" text-anchor="start" font-weight="normal" fill="#151515" transform="translate(862.20,375.80) rotate(-90) scale(0.82,1)" stroke="#151515" stroke-width="0.35">H</text>
<text x="0.00" y="0.00" font-size="9.5" text-anchor="start" font-weight="normal" fill="#151515" transform="translate(862.40,366.00) rotate(-90)" stroke="#151515" stroke-width="0.35">3</text>
<text x="0.00" y="0.00" font-size="15.5" text-anchor="start" font-weight="normal" fill="#151515" transform="translate(325.80,434.80) rotate(-90) scale(0.8,1)" stroke="#151515" stroke-width="0.35">H</text>
<text x="0.00" y="0.00" font-size="9.5" text-anchor="start" font-weight="normal" fill="#151515" transform="translate(328.20,424.20) rotate(-90) scale(0.9,1)" stroke="#151515" stroke-width="0.35">R</text>
<text x="0.00" y="0.00" font-size="13.5" text-anchor="start" font-weight="normal" fill="#151515" transform="translate(344.20,414.00) rotate(-90)" stroke="#151515" stroke-width="0.35">h</text>
<polygon points="473.08,577.13 474.74,576.00 476.44,574.94 478.18,573.95 479.97,573.03 481.79,572.19 483.65,571.42 485.53,570.73 487.44,570.12 489.38,569.58 491.33,569.13 493.31,568.76 495.29,568.47 497.29,568.27 499.29,568.14 501.30,568.10 503.31,568.14 505.31,568.27 507.31,568.47 509.29,568.76 511.27,569.13 513.22,569.58 515.16,570.12 517.07,570.73 518.95,571.42 520.81,572.19 522.63,573.03 524.42,573.95 526.16,574.94 527.86,576.00 529.52,577.13 532.29,574.20 535.70,586.16 522.91,583.16 526.69,579.06 526.69,579.06 525.18,578.09 523.63,577.17 522.05,576.32 520.44,575.53 518.80,574.81 517.13,574.15 515.43,573.55 513.71,573.03 511.98,572.57 510.22,572.19 508.45,571.87 506.68,571.62 504.89,571.44 503.10,571.34 501.30,571.30 499.50,571.34 497.71,571.44 495.92,571.62 494.15,571.87 492.38,572.19 490.62,572.57 488.89,573.03 487.17,573.55 485.47,574.15 483.80,574.81 482.16,575.53 480.55,576.32 478.97,577.17 477.42,578.09 475.91,579.06 479.69,583.16 466.90,586.16 470.31,574.20" stroke="#141414" stroke-width="1.1" fill="white" stroke-linejoin="round" />
<polygon points="634.68,576.33 636.34,575.20 638.04,574.14 639.78,573.15 641.57,572.23 643.39,571.39 645.25,570.62 647.13,569.93 649.04,569.32 650.98,568.78 652.93,568.33 654.91,567.96 656.89,567.67 658.89,567.47 660.89,567.34 662.90,567.30 664.91,567.34 666.91,567.47 668.91,567.67 670.89,567.96 672.87,568.33 674.82,568.78 676.76,569.32 678.67,569.93 680.55,570.62 682.41,571.39 684.23,572.23 686.02,573.15 687.76,574.14 689.46,575.20 691.12,576.33 693.89,573.40 697.30,585.36 684.51,582.36 688.29,578.26 688.29,578.26 686.78,577.29 685.23,576.37 683.65,575.52 682.04,574.73 680.40,574.01 678.73,573.35 677.03,572.75 675.31,572.23 673.58,571.77 671.82,571.39 670.05,571.07 668.28,570.82 666.49,570.64 664.70,570.54 662.90,570.50 661.10,570.54 659.31,570.64 657.52,570.82 655.75,571.07 653.98,571.39 652.22,571.77 650.49,572.23 648.77,572.75 647.07,573.35 645.40,574.01 643.76,574.73 642.15,575.52 640.57,576.37 639.02,577.29 637.51,578.26 641.29,582.36 628.50,585.36 631.91,573.40" stroke="#141414" stroke-width="1.1" fill="white" stroke-linejoin="round" />
<polygon points="841.68,562.93 843.34,561.80 845.04,560.74 846.78,559.75 848.57,558.83 850.39,557.99 852.25,557.22 854.13,556.53 856.04,555.92 857.98,555.38 859.93,554.93 861.91,554.56 863.89,554.27 865.89,554.07 867.89,553.94 869.90,553.90 871.91,553.94 873.91,554.07 875.91,554.27 877.89,554.56 879.87,554.93 881.82,555.38 883.76,555.92 885.67,556.53 887.55,557.22 889.41,557.99 891.23,558.83 893.02,559.75 894.76,560.74 896.46,561.80 898.12,562.93 900.89,560.00 904.30,571.96 891.51,568.96 895.29,564.86 895.29,564.86 893.78,563.89 892.23,562.97 890.65,562.12 889.04,561.33 887.40,560.61 885.73,559.95 884.03,559.35 882.31,558.83 880.58,558.37 878.82,557.99 877.05,557.67 875.28,557.42 873.49,557.24 871.70,557.14 869.90,557.10 868.10,557.14 866.31,557.24 864.52,557.42 862.75,557.67 860.98,557.99 859.22,558.37 857.49,558.83 855.77,559.35 854.07,559.95 852.40,560.61 850.76,561.33 849.15,562.12 847.57,562.97 846.02,563.89 844.51,564.86 848.29,568.96 835.50,571.96 838.91,560.00" stroke="#141414" stroke-width="1.1" fill="white" stroke-linejoin="round" />
<text x="495.30" y="560.80" font-size="15" text-anchor="start" font-weight="normal" fill="#151515" >M</text>
<text x="508.20" y="563.80" font-size="10.5" text-anchor="start" font-weight="normal" fill="#151515" >R</text>
<text x="654.00" y="560.30" font-size="15" text-anchor="start" font-weight="normal" fill="#151515" >M</text>
<text x="666.60" y="562.50" font-size="10.5" text-anchor="start" font-weight="normal" fill="#151515" >P</text>
<text x="858.50" y="548.30" font-size="15" text-anchor="start" font-weight="normal" fill="#151515" >M</text>
<text x="871.30" y="550.30" font-size="10.5" text-anchor="start" font-weight="normal" fill="#151515" >Y</text>
<path d="M471.5,596.6 L531.7,596.6 Q533.8,596.6 533.8,598.7 L533.8,607.4 Q533.8,609.4 531.7,609.4 L528.2,609.4 L524.3,622 Q523.9,624 521.9,624 L512.7,624 L512.7,627.6 Q512.7,629.6 510.7,629.6 L492.4,629.6 Q490.4,629.6 490.4,627.6 L490.4,624 L482.2,624 Q480.2,624 479.8,622 L475.9,609.4 L471.5,609.4 Q469.4,609.4 469.4,607.4 L469.4,598.7 Q469.4,596.6 471.5,596.6 Z" stroke="#141414" stroke-width="1.1" fill="none" />
<line x1="480.20" y1="597.50" x2="480.20" y2="623.50" stroke="#141414" stroke-width="0.8"/>
<line x1="523.00" y1="597.50" x2="523.00" y2="623.50" stroke="#141414" stroke-width="0.8"/>
<polyline points="490.70,622.90 494.40,618.30 488.60,614.20 488.60,611.20 492.80,607.30 510.20,607.30 514.40,611.20 514.40,614.20 508.60,618.30 512.30,622.90" stroke="#222" stroke-width="2.9" fill="none" stroke-linejoin="round" />
<circle cx="484.00" cy="600.40" r="2.70" stroke="#141414" stroke-width="0" fill="#141414"/>
<circle cx="519.20" cy="600.40" r="2.70" stroke="#141414" stroke-width="0" fill="#141414"/>
<circle cx="488.30" cy="621.90" r="2.70" stroke="#141414" stroke-width="0" fill="#141414"/>
<circle cx="514.90" cy="621.90" r="2.70" stroke="#141414" stroke-width="0" fill="#141414"/>
<line x1="501.60" y1="595.00" x2="501.60" y2="615.50" stroke="#141414" stroke-width="0.9"/>
<line x1="501.60" y1="616.50" x2="501.60" y2="631.00" stroke="#141414" stroke-width="0.9"/>
<line x1="497.50" y1="603.00" x2="507.50" y2="603.00" stroke="#999" stroke-width="1.6"/>
<line x1="587.60" y1="609.40" x2="615.50" y2="609.40" stroke="#141414" stroke-width="1.6"/>
<line x1="709.90" y1="609.40" x2="738.10" y2="609.40" stroke="#141414" stroke-width="1.6"/>
<line x1="587.60" y1="611.50" x2="615.50" y2="611.50" stroke="#141414" stroke-width="0.9"/>
<line x1="709.90" y1="611.50" x2="738.10" y2="611.50" stroke="#141414" stroke-width="0.9"/>
<line x1="587.60" y1="613.50" x2="615.50" y2="613.50" stroke="#141414" stroke-width="1.2"/>
<line x1="709.90" y1="613.50" x2="738.10" y2="613.50" stroke="#141414" stroke-width="1.2"/>
<line x1="587.60" y1="615.80" x2="615.50" y2="615.80" stroke="#141414" stroke-width="0.9"/>
<line x1="709.90" y1="615.80" x2="738.10" y2="615.80" stroke="#141414" stroke-width="0.9"/>
<line x1="587.60" y1="617.80" x2="615.50" y2="617.80" stroke="#141414" stroke-width="1.2"/>
<line x1="709.90" y1="617.80" x2="738.10" y2="617.80" stroke="#141414" stroke-width="1.2"/>
<line x1="587.60" y1="620.70" x2="615.50" y2="620.70" stroke="#141414" stroke-width="0.9"/>
<line x1="709.90" y1="620.70" x2="738.10" y2="620.70" stroke="#141414" stroke-width="0.9"/>
<line x1="587.60" y1="623.90" x2="615.50" y2="623.90" stroke="#141414" stroke-width="0.9"/>
<line x1="709.90" y1="623.90" x2="738.10" y2="623.90" stroke="#141414" stroke-width="0.9"/>
<line x1="587.60" y1="627.90" x2="615.50" y2="627.90" stroke="#141414" stroke-width="0.9"/>
<line x1="709.90" y1="627.90" x2="738.10" y2="627.90" stroke="#141414" stroke-width="0.9"/>
<line x1="587.60" y1="629.50" x2="738.10" y2="629.50" stroke="#141414" stroke-width="1.7"/>
<line x1="587.60" y1="627.90" x2="738.10" y2="627.90" stroke="#141414" stroke-width="0.8"/>
<line x1="587.60" y1="609.40" x2="587.60" y2="629.50" stroke="#141414" stroke-width="0.8"/>
<line x1="738.10" y1="609.40" x2="738.10" y2="629.50" stroke="#141414" stroke-width="0.8"/>
<line x1="626.20" y1="596.30" x2="698.60" y2="596.30" stroke="#141414" stroke-width="1.1"/>
<line x1="615.50" y1="597.40" x2="626.20" y2="597.40" stroke="#141414" stroke-width="1.15"/>
<line x1="698.60" y1="597.40" x2="709.90" y2="597.40" stroke="#141414" stroke-width="1.15"/>
<line x1="615.50" y1="624.50" x2="709.90" y2="624.50" stroke="#141414" stroke-width="1.1"/>
<line x1="615.50" y1="596.30" x2="615.50" y2="624.50" stroke="#141414" stroke-width="1.1"/>
<line x1="626.20" y1="596.30" x2="626.20" y2="624.50" stroke="#141414" stroke-width="1.1"/>
<line x1="698.60" y1="596.30" x2="698.60" y2="624.50" stroke="#141414" stroke-width="1.1"/>
<line x1="709.90" y1="596.30" x2="709.90" y2="624.50" stroke="#141414" stroke-width="1.1"/>
<line x1="617.20" y1="597.40" x2="617.20" y2="624.50" stroke="#141414" stroke-width="0.8"/>
<line x1="708.20" y1="597.40" x2="708.20" y2="624.50" stroke="#141414" stroke-width="0.8"/>
<line x1="626.20" y1="609.40" x2="698.60" y2="609.40" stroke="#141414" stroke-width="0.9"/>
<path d="M637.2,605.3 L645.8,605.3 C646.2,611 645.8,622.6 641.5,622.7 C637.2,622.6 636.8,611 637.2,605.3 Z" stroke="#141414" stroke-width="1.0" fill="white" />
<path d="M679.2,605.3 L687.8,605.3 C688.2,611 687.8,622.6 683.5,622.7 C679.2,622.6 678.8,611 679.2,605.3 Z" stroke="#141414" stroke-width="1.0" fill="white" />
<line x1="833.30" y1="583.70" x2="906.60" y2="583.70" stroke="#141414" stroke-width="2.0"/>
<line x1="833.30" y1="647.50" x2="906.60" y2="647.50" stroke="#141414" stroke-width="2.0"/>
<line x1="833.30" y1="583.70" x2="833.30" y2="647.50" stroke="#141414" stroke-width="1.0"/>
<line x1="906.60" y1="583.70" x2="906.60" y2="647.50" stroke="#141414" stroke-width="1.0"/>
<line x1="833.30" y1="595.50" x2="906.60" y2="595.50" stroke="#141414" stroke-width="1.6"/>
<line x1="833.30" y1="610.00" x2="906.60" y2="610.00" stroke="#141414" stroke-width="1.1"/>
<line x1="833.30" y1="621.50" x2="906.60" y2="621.50" stroke="#141414" stroke-width="1.1"/>
<line x1="833.30" y1="636.00" x2="906.60" y2="636.00" stroke="#141414" stroke-width="1.6"/>
<line x1="822.40" y1="594.30" x2="833.30" y2="594.30" stroke="#141414" stroke-width="1.4"/>
<line x1="822.40" y1="637.20" x2="833.30" y2="637.20" stroke="#141414" stroke-width="1.4"/>
<line x1="822.40" y1="594.30" x2="822.40" y2="637.20" stroke="#141414" stroke-width="1.4"/>
<line x1="824.30" y1="594.30" x2="824.30" y2="637.20" stroke="#777" stroke-width="0.8"/>
<line x1="906.60" y1="594.30" x2="918.00" y2="594.30" stroke="#141414" stroke-width="1.4"/>
<line x1="906.60" y1="637.20" x2="918.00" y2="637.20" stroke="#141414" stroke-width="1.4"/>
<line x1="918.00" y1="594.30" x2="918.00" y2="637.20" stroke="#141414" stroke-width="1.4"/>
<line x1="916.10" y1="594.30" x2="916.10" y2="637.20" stroke="#777" stroke-width="0.8"/>
<line x1="792.90" y1="605.80" x2="822.40" y2="605.80" stroke="#141414" stroke-width="1.0"/>
<line x1="918.00" y1="605.80" x2="947.30" y2="605.80" stroke="#141414" stroke-width="1.0"/>
<line x1="792.90" y1="607.60" x2="822.40" y2="607.60" stroke="#141414" stroke-width="1.0"/>
<line x1="918.00" y1="607.60" x2="947.30" y2="607.60" stroke="#141414" stroke-width="1.0"/>
<line x1="792.90" y1="623.30" x2="822.40" y2="623.30" stroke="#141414" stroke-width="1.0"/>
<line x1="918.00" y1="623.30" x2="947.30" y2="623.30" stroke="#141414" stroke-width="1.0"/>
<line x1="792.90" y1="625.10" x2="822.40" y2="625.10" stroke="#141414" stroke-width="1.0"/>
<line x1="918.00" y1="625.10" x2="947.30" y2="625.10" stroke="#141414" stroke-width="1.0"/>
<path d="M792.9,607.6 L791.2,611.5 L792.5,615.8 L791.2,620 L792.9,623.3" stroke="#141414" stroke-width="0.8" fill="none" />
<path d="M947.3,607.6 L948.8,611.5 L947.5,615.8 L948.8,620 L947.3,623.3" stroke="#141414" stroke-width="0.8" fill="none" />
<line x1="797.00" y1="615.80" x2="944.00" y2="615.80" stroke="#555" stroke-width="1.0" stroke-dasharray="9,2.5,2,2.5"/>
<circle cx="804.90" cy="615.80" r="3.80" stroke="#141414" stroke-width="1.6" fill="none"/>
<line x1="802.90" y1="615.80" x2="806.90" y2="615.80" stroke="#141414" stroke-width="0.8"/>
<line x1="804.90" y1="611.00" x2="804.90" y2="620.60" stroke="#141414" stroke-width="0.8"/>
<circle cx="934.10" cy="615.80" r="3.80" stroke="#141414" stroke-width="1.6" fill="none"/>
<line x1="932.10" y1="615.80" x2="936.10" y2="615.80" stroke="#141414" stroke-width="0.8"/>
<line x1="934.10" y1="611.00" x2="934.10" y2="620.60" stroke="#141414" stroke-width="0.8"/>
<line x1="840.00" y1="589.70" x2="840.00" y2="641.70" stroke="#444" stroke-width="0.9" stroke-dasharray="6,2,1.5,2"/>
<circle cx="840.00" cy="589.70" r="1.80" stroke="#141414" stroke-width="0" fill="#141414"/>
<line x1="835.50" y1="589.70" x2="844.50" y2="589.70" stroke="#141414" stroke-width="0.7"/>
<circle cx="840.00" cy="641.70" r="1.80" stroke="#141414" stroke-width="0" fill="#141414"/>
<line x1="835.50" y1="641.70" x2="844.50" y2="641.70" stroke="#141414" stroke-width="0.7"/>
<line x1="899.60" y1="589.70" x2="899.60" y2="641.70" stroke="#444" stroke-width="0.9" stroke-dasharray="6,2,1.5,2"/>
<circle cx="899.60" cy="589.70" r="1.80" stroke="#141414" stroke-width="0" fill="#141414"/>
<line x1="895.10" y1="589.70" x2="904.10" y2="589.70" stroke="#141414" stroke-width="0.7"/>
<circle cx="899.60" cy="641.70" r="1.80" stroke="#141414" stroke-width="0" fill="#141414"/>
<line x1="895.10" y1="641.70" x2="904.10" y2="641.70" stroke="#141414" stroke-width="0.7"/>
</svg></body></html>
